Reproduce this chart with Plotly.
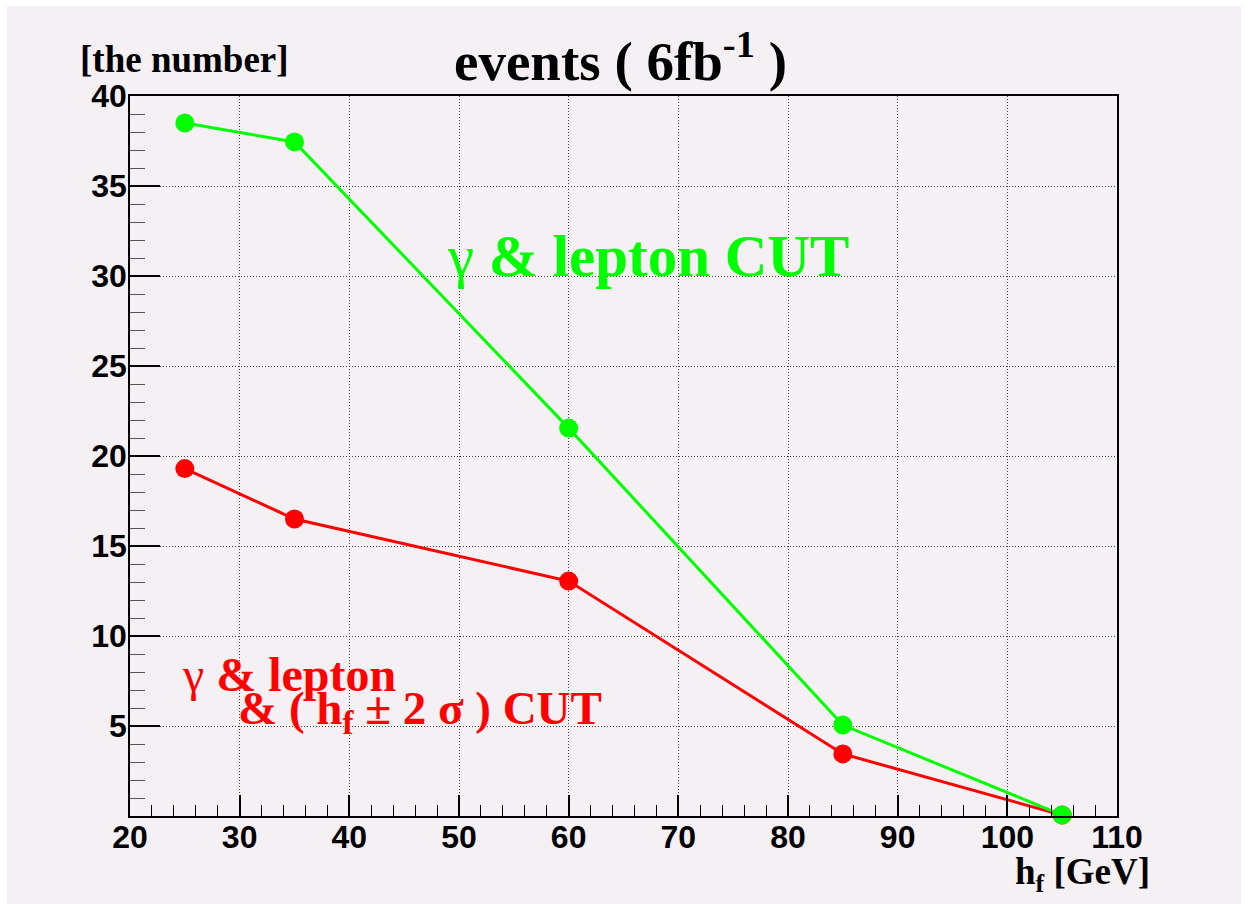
import plotly.graph_objects as go

# h_f mass points [GeV] and event counts for 6 fb^-1
mass_gev = [25, 35, 60, 85, 105]
events_gamma_lepton = [38.5, 37.45, 21.55, 5.05, 0.05]
events_gamma_lepton_window = [19.3, 16.5, 13.05, 3.45, 0.05]

x_ticks = [20, 30, 40, 50, 60, 70, 80, 90, 100, 110]
y_ticks = [5, 10, 15, 20, 25, 30, 35, 40]
y_tick_text = ["5", "10", "15", "20", "25", "30", "35", "40"]

W, H = 1249, 904
ML, MR, MT, MB = 130, 132, 96, 88
PW, PH = W - ML - MR, H - MT - MB


def fx(px):
    return (px - ML) / PW


def fy(py):
    return (H - MB - py) / PH


BG = "#f5f0f4"
SERIF = "Liberation Serif"
SANS = "Liberation Sans"

fig = go.Figure()

# red series first so the green one is drawn on top
fig.add_trace(go.Scatter(
    x=mass_gev, y=events_gamma_lepton_window, mode="lines+markers",
    line=dict(color="#ff0000", width=3),
    marker=dict(color="#ff0000", size=19),
    showlegend=False, cliponaxis=False,
))
fig.add_trace(go.Scatter(
    x=mass_gev, y=events_gamma_lepton, mode="lines+markers",
    line=dict(color="#00ff00", width=3),
    marker=dict(color="#00ff00", size=19),
    showlegend=False, cliponaxis=False,
))

grid = dict(showgrid=True, gridcolor="#444444", gridwidth=1, griddash="1px,2px")
axis_common = dict(
    showline=True, linecolor="black", linewidth=1.5, mirror=True,
    ticks="inside", tickcolor="black", tickwidth=1.5,
    tickfont=dict(family=SANS, size=32, color="black", weight="bold"),
    zeroline=False, **grid,
)

fig.update_xaxes(
    range=[20, 110], tickmode="array", tickvals=x_ticks,
    ticktext=[str(v) for v in x_ticks], ticklen=21, ticklabelstandoff=-8,
    minor=dict(tickmode="linear", tick0=20, dtick=2, ticks="inside",
               ticklen=11, tickcolor="black", tickwidth=1, showgrid=False),
    **axis_common,
)
fig.update_yaxes(
    range=[0, 40], tickmode="array", tickvals=y_ticks, ticktext=y_tick_text,
    ticklen=30, ticklabelstandoff=-5,
    minor=dict(tickmode="linear", tick0=0, dtick=1, ticks="inside",
               ticklen=15, tickcolor="#555555", tickwidth=1, showgrid=False),
    **axis_common,
)

# canvas panel behind the frame
fig.add_shape(type="rect", xref="paper", yref="paper", layer="below",
              x0=fx(7), x1=fx(1241), y0=fy(904), y1=fy(6),
              fillcolor=BG, line=dict(width=0))


def label(text, x, y, size, color="black", xanchor="left"):
    fig.add_annotation(
        text=text, xref="paper", yref="paper", x=fx(x), y=fy(y),
        xanchor=xanchor, yanchor="middle", showarrow=False,
        font=dict(family=SERIF, size=size, color=color, weight="bold"),
    )


gam = '<span style="font-weight:normal">γ</span>'
label("events ( 6fb<sup>-1</sup> )", 620, 58, 55, xanchor="center")
label("[the number]", 78, 60, 37)
label("h<sub>f</sub> [GeV]", 1152, 874, 37, xanchor="right")
label(gam + " &amp; lepton CUT", 445, 256, 59, color="#00ff00")
label(gam + " &amp; lepton", 180, 674, 48, color="#ff0000")
label("&amp; ( h<sub>f</sub> ± 2 σ ) CUT", 236, 711, 47, color="#ff0000")

fig.update_layout(
    width=W, height=H,
    margin=dict(l=ML, r=MR, t=MT, b=MB, pad=0),
    paper_bgcolor="white", plot_bgcolor=BG,
)

fig.write_html("out.html")
